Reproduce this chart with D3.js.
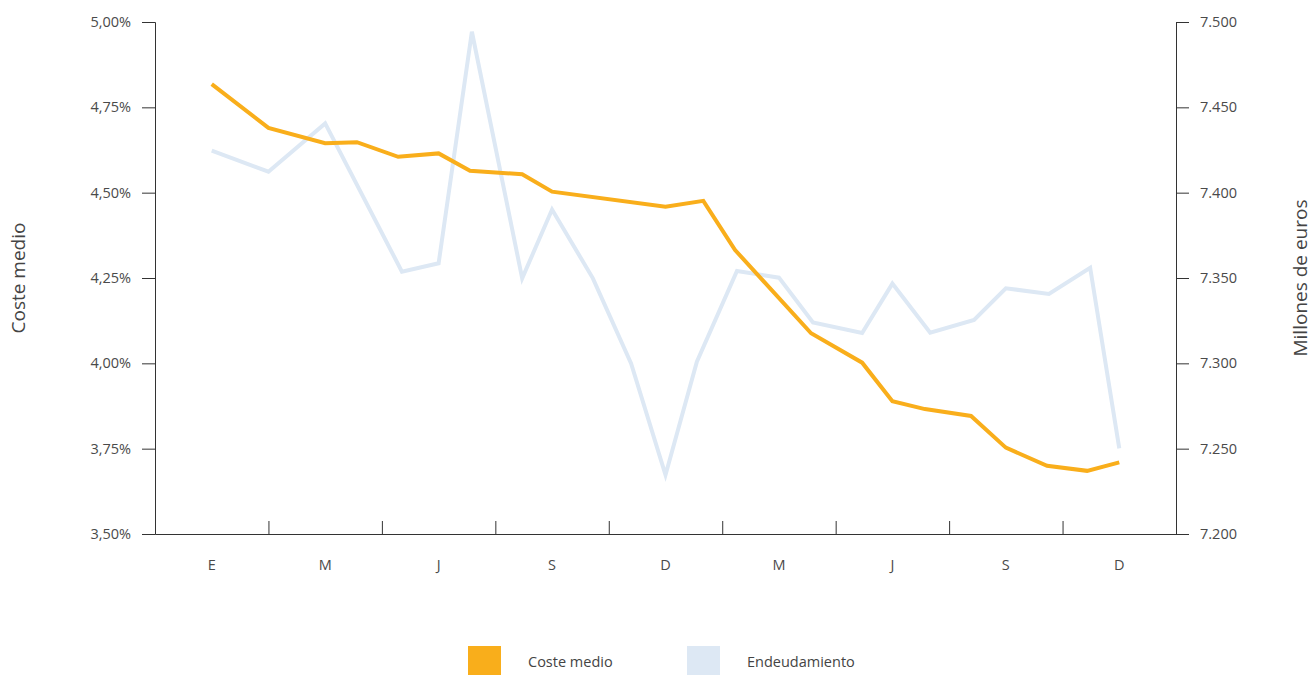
<!DOCTYPE html>
<html><head><meta charset="utf-8">
<script src="https://cdn.jsdelivr.net/npm/d3@7"></script>
<style>
body{margin:0;background:#fff;}
svg{display:block;font-family:"Open Sans",sans-serif;}
</style></head>
<body><svg id="c" width="1314" height="675"></svg>
<script>
// Data
const xTickLabels = ["E","M","J","S","D","M","J","S","D"];
const xLabelPos = [0,3,6,9,12,15,18,21,24];
const costeX = [0,1.5,3,3.84,4.93,6,6.83,8.21,9,12,13,13.84,15.85,17.2,18,18.86,20.08,21,22.09,23.15,24];
const costeY = [4.818,4.690,4.645,4.648,4.605,4.615,4.564,4.554,4.503,4.459,4.476,4.332,4.088,4.002,3.889,3.866,3.846,3.753,3.700,3.685,3.710];
const endeudX = [0,1.5,3,5.03,6,6.88,8.21,9,10.08,11.09,12,12.83,13.89,15,15.9,17.2,18,19,20.16,21,22.14,23.23,24];
const endeudY = [7424.6,7412.3,7440.6,7353.7,7358.6,7494.3,7349.8,7390.1,7349.8,7300,7234.6,7301,7354.1,7350.2,7324,7317.8,7346.7,7318,7325.4,7344,7340.6,7356,7250.2];
const leftTicks = [3.5,3.75,4,4.25,4.5,4.75,5];
const rightTicks = [7200,7250,7300,7350,7400,7450,7500];
const seriesNames = ["Coste medio","Endeudamiento"];
const colors = ["#F9AE1B","#DDE8F4"];

const svg = d3.select("#c");
const L = 155, R = 1176, T = 22, B = 534;
const x = d3.scaleLinear().domain([-1.5,25.5]).range([L,R]);
const yL = d3.scaleLinear().domain([3.5,5]).range([B,T]);
const yR = d3.scaleLinear().domain([7200,7500]).range([B,T]);

const axisColor = "#333";
const fs = "14.5px";
const fmtL = d => d3.format(".2f")(d).replace(".",",") + "%";
const fmtR = d => d3.format(".3f")(d/1000);

// left axis
const gl = svg.append("g").attr("transform",`translate(${L},0)`)
  .call(d3.axisLeft(yL).tickValues(leftTicks).tickFormat(fmtL).tickSize(13).tickPadding(11));
// right axis
const gr = svg.append("g").attr("transform",`translate(${R},0)`)
  .call(d3.axisRight(yR).tickValues(rightTicks).tickFormat(fmtR).tickSize(13).tickPadding(11));
// bottom axis
const bTicks = d3.range(-1.5,25.6,3);
const gb = svg.append("g").attr("transform",`translate(0,${B})`)
  .call(d3.axisBottom(x).tickValues(bTicks).tickFormat("").tickSizeInner(-13).tickSizeOuter(0));
[gl,gr,gb].forEach(g=>{
  g.select(".domain").attr("stroke",axisColor).attr("stroke-width",1);
  g.selectAll(".tick line").attr("stroke",axisColor);
  g.selectAll(".tick text").attr("fill","#4a4a4a").style("font-size",fs).style("font-family","'Open Sans',sans-serif");
});
gb.selectAll(".tick").filter(d=>d===-1.5||d===25.5).remove();

// x labels
svg.append("g").selectAll("text").data(xLabelPos).join("text")
  .attr("x",d=>x(d)).attr("y",570).attr("text-anchor","middle")
  .attr("fill","#4a4a4a").style("font-size",fs)
  .text((d,i)=>xTickLabels[i]);

// axis titles
svg.append("text").attr("transform",`translate(25,278) rotate(-90)`)
  .attr("text-anchor","middle").attr("fill","#444").style("font-size","19px").text("Coste medio");
svg.append("text").attr("transform",`translate(1307,278) rotate(-90)`)
  .attr("text-anchor","middle").attr("fill","#444").style("font-size","19px").text("Millones de euros");

// lines
const endeud = endeudX.map((d,i)=>[d,endeudY[i]]);
const coste = costeX.map((d,i)=>[d,costeY[i]]);
svg.append("path").datum(endeud)
  .attr("fill","none").attr("stroke",colors[1]).attr("stroke-width",4).attr("stroke-linejoin","miter")
  .attr("d",d3.line().x(d=>x(d[0])).y(d=>yR(d[1])));
svg.append("path").datum(coste)
  .attr("fill","none").attr("stroke",colors[0]).attr("stroke-width",4).attr("stroke-linejoin","miter")
  .attr("d",d3.line().x(d=>x(d[0])).y(d=>yL(d[1])));

// legend
const legX = [468,687];
const lg = svg.append("g");
seriesNames.forEach((n,i)=>{
  lg.append("rect").attr("x",legX[i]).attr("y",646).attr("width",33).attr("height",30).attr("fill",colors[i]);
  lg.append("text").attr("x",legX[i]+60).attr("y",667).attr("fill","#444").style("font-size",fs).text(n);
});
</script></body></html>
